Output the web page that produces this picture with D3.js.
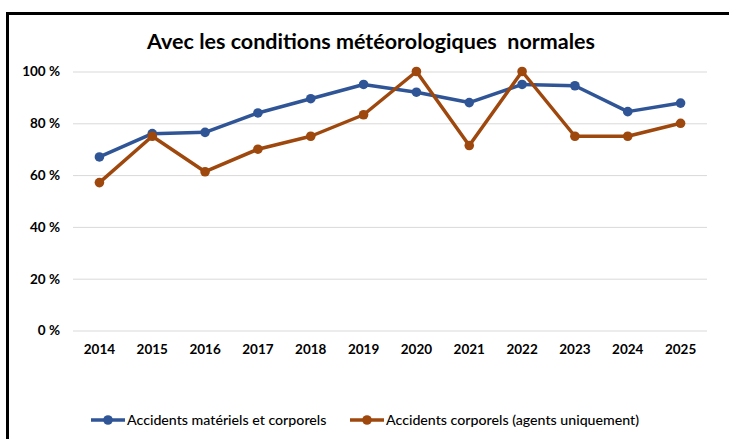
<!DOCTYPE html>
<html>
<head>
<meta charset="utf-8">
<script src="https://cdn.jsdelivr.net/npm/d3@7"></script>
<style>
  body { margin: 0; background: #fff; }
  svg { display: block; font-family: Lato, "Noto Sans", sans-serif; }
</style>
</head>
<body>
<div id="chart"></div>
<script>
const years = ['2014','2015','2016','2017','2018','2019','2020','2021','2022','2023','2024','2025'];
const materielsEtCorporels = [67, 76, 76.5, 84, 89.5, 95, 92, 88, 95, 94.5, 84.5, 87.8];
const corporelsAgents = [57.1, 75, 61.3, 70, 75, 83.3, 100, 71.4, 100, 75, 75, 80];
const yTicks = [0, 20, 40, 60, 80, 100];
const seriesNames = ['Accidents matériels et corporels', 'Accidents corporels (agents uniquement)'];
const colors = ['#2f5597', '#9e480e'];

const W = 729, H = 439;
const margin = {top: 71.5, right: 22, bottom: 108.5, left: 73};
const width = W - margin.left - margin.right;
const height = H - margin.top - margin.bottom;

const svg = d3.select('#chart').append('svg')
    .attr('width', W).attr('height', H);

// outer frame (cut off at right and bottom like the screenshot)
svg.append('rect')
    .attr('x', 7.5).attr('y', 13.5)
    .attr('width', W + 20).attr('height', H + 20)
    .attr('fill', 'none').attr('stroke', '#000').attr('stroke-width', 3);

svg.append('text')
    .attr('x', 371).attr('y', 49)
    .attr('text-anchor', 'middle')
    .style('font-size', '21.5px').style('font-weight', 'bold')
    .attr('xml:space', 'preserve')
    .text('Avec les conditions météorologiques  normales');

const g = svg.append('g').attr('transform', `translate(${margin.left},${margin.top})`);

const x = d3.scaleBand().domain(years).range([0, width]);
const y = d3.scaleLinear().domain([0, 100]).range([height, 0]);

// gridlines
g.append('g')
    .call(d3.axisLeft(y).tickValues(yTicks).tickSize(-width).tickFormat(d => d + ' %'))
    .call(a => a.select('.domain').remove())
    .call(a => a.selectAll('line').attr('stroke', '#d9d9d9').attr('stroke-width', 1))
    .call(a => a.selectAll('text').attr('x', -13).attr('fill', '#000')
        .style('font-size', '13.5px').style('font-weight', 'bold').style('font-family', 'Lato'));

g.append('g')
    .attr('transform', `translate(0,${height})`)
    .call(d3.axisBottom(x).tickSize(0).tickPadding(14))
    .call(a => a.select('.domain').remove())
    .call(a => a.selectAll('text').attr('fill', '#000')
        .style('font-size', '13.5px').style('font-weight', 'bold').style('font-family', 'Lato'));

const line = d3.line().x((d, i) => x(years[i]) + x.bandwidth() / 2).y(d => y(d));

[materielsEtCorporels, corporelsAgents].forEach((vals, k) => {
    g.append('path').datum(vals)
        .attr('d', line)
        .attr('fill', 'none').attr('stroke', colors[k]).attr('stroke-width', 3.5)
        .attr('stroke-linejoin', 'round');
    g.selectAll(null).data(vals).enter().append('circle')
        .attr('cx', (d, i) => x(years[i]) + x.bandwidth() / 2)
        .attr('cy', d => y(d))
        .attr('r', 4.8)
        .attr('fill', colors[k]);
});

// legend
const legX = [91, 350];
const leg = svg.append('g');
seriesNames.forEach((name, k) => {
    const lg = leg.append('g').attr('transform', `translate(${legX[k]},420)`);
    lg.append('line').attr('x1', 0).attr('x2', 34).attr('y1', 0).attr('y2', 0)
        .attr('stroke', colors[k]).attr('stroke-width', 3.5);
    lg.append('circle').attr('cx', 17).attr('cy', 0).attr('r', 4.8).attr('fill', colors[k]);
    lg.append('text').attr('x', 36).attr('y', 5)
        .style('font-size', '14.2px').style('font-weight', 500).attr('fill', '#000')
        .text(name);
});
</script>
</body>
</html>
